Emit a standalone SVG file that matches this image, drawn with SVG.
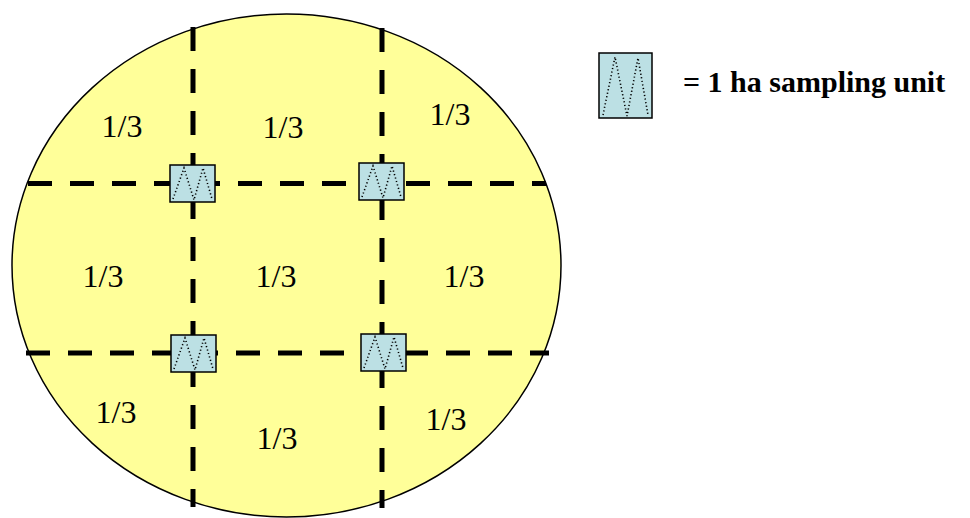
<svg xmlns="http://www.w3.org/2000/svg" width="970" height="518" viewBox="0 0 970 518">
<style>
.field{fill:#FFFF99;stroke:#000;stroke-width:1.5}
.grid{stroke:#000;stroke-width:5;stroke-dasharray:24 18;fill:none}
.unit{fill:#BCE0E4;stroke:#000;stroke-width:1.5}
.zz{fill:none;stroke:#000;stroke-width:1.6;stroke-dasharray:1.2 2.4;stroke-linecap:butt}
.lbl{font-size:32px;fill:#000;text-anchor:middle}
.leg{font-size:30px;font-weight:bold;fill:#000}
</style>
<defs>
<g id="su">
<rect class="unit" x="0" y="0" width="45" height="37"/>
<polyline class="zz" points="3,34 14,3 24,35 33,3 42,34"/>
</g>
</defs>
<g id="field"><ellipse class="field" cx="286.5" cy="265.5" rx="274.5" ry="251.5"/></g>
<g id="connectors">
<line class="grid" x1="193" y1="27" x2="193" y2="507"/>
<line class="grid" x1="382" y1="28" x2="382" y2="508"/>
<line class="grid" x1="28" y1="183.5" x2="546" y2="183.5"/>
<line class="grid" x1="26" y1="353" x2="549" y2="353"/>
</g>
<g id="unit1"><use href="#su" x="170" y="165"/></g>
<g id="unit2"><use href="#su" x="359" y="163"/></g>
<g id="unit3"><use href="#su" x="171" y="335"/></g>
<g id="unit4"><use href="#su" x="361" y="334"/></g>
<g id="labels" font-family="'Liberation Serif', 'Times New Roman', Times, 'Nimbus Roman', 'Noto Serif', 'DejaVu Serif', Tinos, FreeSerif, serif">
<text class="lbl" x="122" y="137">1/3</text>
<text class="lbl" x="283" y="138">1/3</text>
<text class="lbl" x="450" y="125">1/3</text>
<text class="lbl" x="103" y="287">1/3</text>
<text class="lbl" x="276" y="287">1/3</text>
<text class="lbl" x="464" y="287">1/3</text>
<text class="lbl" x="116" y="423">1/3</text>
<text class="lbl" x="277" y="449">1/3</text>
<text class="lbl" x="446" y="430">1/3</text>
</g>
<g id="legend">
<rect class="unit" x="599" y="53" width="53" height="65"/>
<polyline class="zz" points="603,115 615,57 627,116 638,58 648,115"/>
<text class="leg" x="683" y="92" font-family="'Liberation Serif', 'Times New Roman', Times, 'Nimbus Roman', 'Noto Serif', 'DejaVu Serif', Tinos, FreeSerif, serif">= 1 ha sampling unit</text>
</g>
</svg>
